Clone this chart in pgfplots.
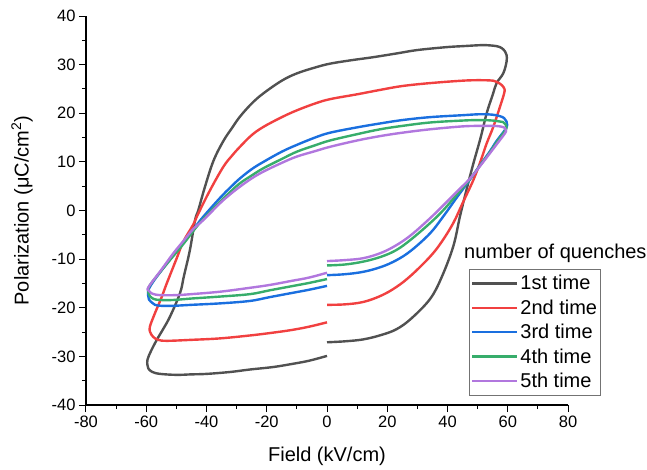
\documentclass[border=0pt]{standalone}
\usepackage{pgfplots}
\pgfplotsset{compat=1.18}
\usepackage{fontspec}
\setmainfont{Liberation Sans}
\definecolor{cA}{HTML}{515151}
\definecolor{cB}{HTML}{F14040}
\definecolor{cC}{HTML}{1A6FDF}
\definecolor{cD}{HTML}{37AD6B}
\definecolor{cE}{HTML}{B177DE}
\begin{document}
\begin{tikzpicture}
\begin{axis}[
  scale only axis, width=482pt, height=389pt,
  xmin=-80, xmax=80, ymin=-40, ymax=40,
  axis x line*=bottom, axis y line*=left,
  axis line style={line width=1.2pt, black, -},
  xtick={-80,-60,...,80}, ytick={-40,-30,...,40},
  minor x tick num=1, minor y tick num=1,
  tick align=outside,
  major tick length=7pt, minor tick length=4pt,
  every tick/.style={black, line width=1pt},
  /pgf/number format/assume math mode=true,
  ticklabel style={font=\fontsize{16.5}{19}\selectfont},
  xlabel={Field (kV/cm)},
  ylabel={Polarization (μC/cm\textsuperscript{2})},
  label style={font=\fontsize{20}{24}\selectfont},
  xlabel style={at={(axis description cs:0.5,-0.1465)}, anchor=base},
  ylabel style={at={(axis description cs:-0.1328,0.5)}, anchor=center},
  clip=false,
  legend style={at={(rel axis cs:0.7946,0.3496)}, anchor=north west,
    draw=black!55, line width=0.8pt, font=\fontsize{20}{24}\selectfont,
    inner xsep=1.5pt, inner ysep=4pt, row sep=4.4pt},
  legend cell align=left,
  legend image code/.code={\draw[#1, line width=2.5pt] (0pt,0pt) -- (45pt,0pt);},
  every axis plot/.append style={line width=2.4pt, line join=round, smooth, tension=0.6},
]
\addplot[cA] coordinates {
(0,-27.1) (6,-26.9) (12.1,-26.5) (18,-25.6) (23.1,-24.4) (28,-22.2) (34.2,-18.2) (38,-13.8) (41.9,-7.4) (44.1,-1.3) (46.4,4.5) (48.6,9.7) (51,15) (53,20) (55,23.8) (56.3,26.2) (58.5,28.2) (59.6,30.6) (59.6,32) (59.1,32.7) (58,33.4) (56.3,33.8) (53,34) (50.8,34.0) (45,33.8) (39.7,33.6) (30,33) (23.1,32.3) (15,31.5) (8,30.9) (1,30.2) (-4,29.4) (-10,28.2) (-15,26.7) (-21.1,24.1) (-25,22) (-28.9,19.3) (-31.5,17) (-34.4,14.3) (-37.7,10.2) (-40.5,4.9) (-42.7,0.1) (-43.8,-2) (-45.5,-8.1) (-47.5,-13.5) (-48.8,-17) (-52.1,-21.8) (-54.5,-24.5) (-56.5,-26.6) (-58.5,-29) (-59.6,-30.7) (-59.6,-31.8) (-59.3,-32.5) (-58,-33.2) (-55.4,-33.6) (-50,-33.8) (-45,-33.7) (-39.9,-33.6) (-32,-33.2) (-25.6,-32.7) (-18,-32.2) (-12,-31.6) (-6,-30.9) (0,-29.9)
};
\addlegendentry{1st time}
\addplot[cB] coordinates {
(0,-19.4) (6,-19.3) (12.1,-18.8) (18,-17.5) (23.1,-15.7) (28,-13.3) (34.2,-9.5) (38,-6.5) (41.9,-2.6) (45,1.5) (48.6,6.3) (51,10.2) (53,13.8) (55.2,17.2) (57.4,21.3) (58.8,24.1) (58.9,25) (58,25.8) (56.5,26.4) (55.2,26.7) (50.8,26.8) (45,26.7) (34.2,26.2) (25,25.6) (17.6,24.8) (10,23.9) (1,22.9) (-4,22.0) (-10,20.6) (-15,19.2) (-21.1,17.2) (-25,15.5) (-28.9,13.1) (-31.5,11.3) (-34.4,9) (-38.8,4.2) (-42.7,-0.6) (-44.5,-3) (-47.7,-6.4) (-50,-10) (-53.2,-15) (-55,-18) (-57.1,-21.1) (-58.8,-23.9) (-58.7,-25) (-57.7,-26) (-56,-26.6) (-53.2,-26.8) (-45,-26.6) (-35.5,-26.3) (-25.6,-25.7) (-18.9,-25.2) (-12,-24.6) (-6,-23.9) (0,-23)
};
\addlegendentry{2nd time}
\addplot[cC] coordinates {
(0,-13.3) (6,-13.1) (12.1,-12.6) (18,-11.6) (23.1,-10.2) (28,-8.2) (34.2,-4.7) (38.5,-1.3) (43,2.6) (47.5,6.4) (51,9.5) (54.1,12.2) (56.3,14.3) (59.1,16.6) (59.8,17.6) (59.6,18.3) (58.8,19) (57.4,19.4) (55,19.7) (50.8,19.8) (45,19.6) (34.2,19.2) (25,18.6) (17.6,17.9) (10,17.1) (1,16) (-4,15) (-10,13.5) (-15,12.1) (-21.1,10) (-25,8.5) (-28.9,6.6) (-32,4.8) (-35.5,2.6) (-41.1,-1.3) (-44,-3.6) (-47.7,-6.7) (-52,-10) (-56.5,-13.6) (-58.5,-15.4) (-59.3,-16.3) (-59.4,-17.4) (-59.1,-18.3) (-58,-19) (-57.1,-19.4) (-55,-19.6) (-51,-19.6) (-45,-19.4) (-35.5,-19.1) (-25.6,-18.6) (-18.9,-17.8) (-12,-17) (-6,-16.3) (0,-15.5)
};
\addlegendentry{3rd time}
\addplot[cD] coordinates {
(0,-11.3) (6,-11.1) (12.1,-10.5) (18,-9.5) (23.1,-8.1) (28,-5.9) (34.2,-2.6) (38.5,0.0) (43,3.2) (47.5,6.5) (51,9.4) (54.1,12.0) (56.3,14.0) (59,16.3) (59.6,17) (59.3,17.7) (58.4,18.2) (57.4,18.3) (55,18.5) (50.8,18.6) (45,18.5) (34.2,18.1) (25,17.4) (17.6,16.7) (10,15.7) (1,14.4) (-4,13.4) (-10,12.1) (-15,10.6) (-21.1,8.7) (-25,7.2) (-28.9,5.6) (-32,3.9) (-35.5,1.8) (-41,-1.7) (-44,-3.9) (-47.7,-6.9) (-52,-10.1) (-56.5,-13.5) (-58.5,-15.1) (-59.3,-16.0) (-59.3,-16.9) (-58.8,-17.6) (-57.5,-18.2) (-55.4,-18.4) (-51,-18.4) (-45,-18.1) (-35.5,-17.7) (-25.6,-17.2) (-18.9,-16.4) (-12,-15.6) (-6,-14.9) (0,-14.1)
};
\addlegendentry{4th time}
\addplot[cE] coordinates {
(0,-10.4) (6,-10.2) (12.1,-9.8) (18,-8.7) (23.1,-7.1) (28,-5) (34.2,-1.6) (38.5,1.0) (43,3.8) (47.5,6.6) (51,9.3) (54.1,11.8) (56.3,13.6) (59.1,15.9) (59.4,16.5) (59,17) (57.4,17.3) (55,17.4) (50.8,17.4) (45,17.3) (34.2,16.7) (25,16) (17.6,15.3) (10,14.4) (1,13.1) (-4,12.2) (-10,11.1) (-15,9.8) (-21.1,8) (-25,6.6) (-28.9,4.9) (-32,3.4) (-35.5,1.5) (-41.1,-2) (-44.4,-3.8) (-47.7,-6.3) (-51,-8.8) (-55,-12.2) (-59.3,-15.8) (-59.1,-16.5) (-58,-17.1) (-55.4,-17.4) (-50,-17.4) (-45,-17.2) (-35.5,-16.7) (-25.6,-15.9) (-18.9,-15.3) (-12,-14.5) (-6,-13.8) (0,-12.8)
};
\addlegendentry{5th time}
\node[anchor=base west, inner sep=0pt, font=\fontsize{20}{24}\selectfont] at (rel axis cs:0.7842,0.3766) {number of quenches};
\end{axis}
\pgfresetboundingbox
\path[use as bounding box] (-86pt,-64pt) rectangle (561pt,405pt);
\end{tikzpicture}
\end{document}
